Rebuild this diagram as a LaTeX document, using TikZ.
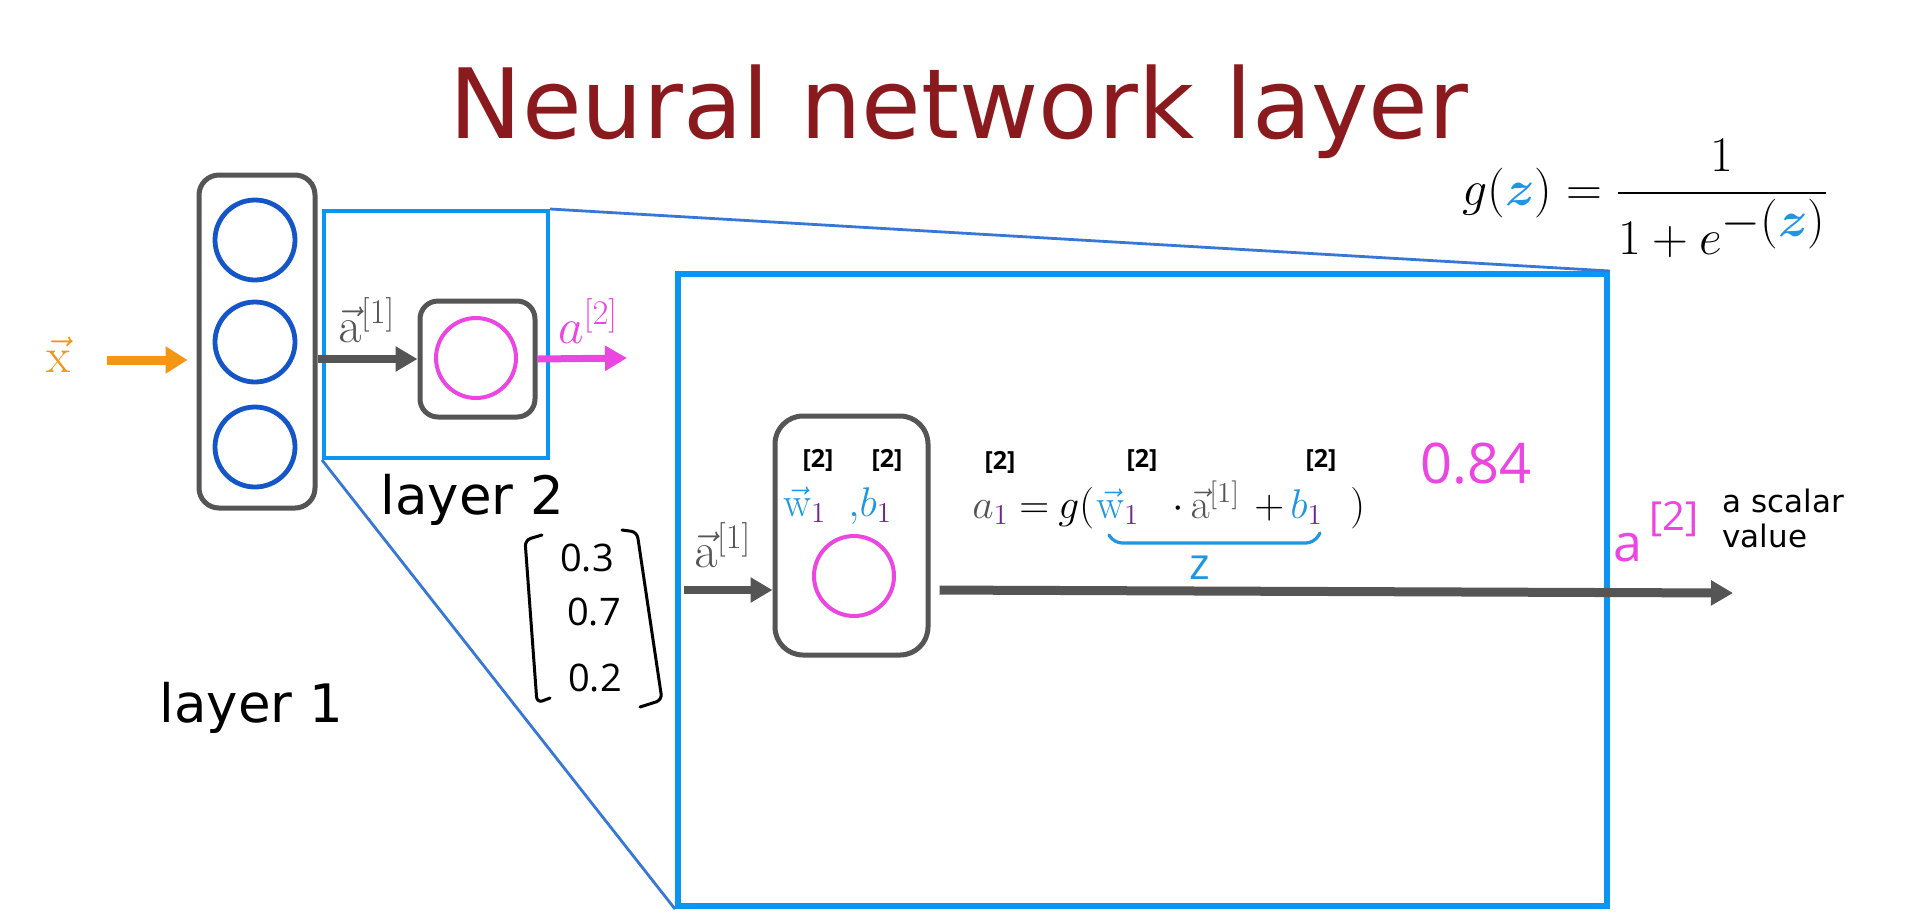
\documentclass[tikz,border=0pt]{standalone}
\usepackage{amsmath}
\usepackage[no-math]{fontspec}
\setmainfont{DejaVu Sans}
\newfontfamily\handfont{Open Sans}
\usetikzlibrary{arrows.meta}
\definecolor{titlered}{RGB}{139,26,30}
\definecolor{boxgray}{RGB}{85,85,85}
\definecolor{nodeblue}{RGB}{20,85,200}
\definecolor{lightblue}{RGB}{10,150,240}
\definecolor{zoomblue}{RGB}{55,120,215}
\definecolor{pinkm}{RGB}{235,70,225}
\definecolor{orangex}{RGB}{243,150,20}
\definecolor{purp}{RGB}{110,40,140}
\definecolor{wblue}{RGB}{30,150,225}
\begin{document}
\begin{tikzpicture}[x=0.5pt,y=-0.5pt,
  graybox/.style={draw=boxgray, line width=2.5pt, rounded corners=10pt, inner sep=0},
  l1circ/.style={circle, draw=nodeblue, line width=2.4pt, minimum size=40pt, inner sep=0},
  pinkcirc/.style={circle, draw=pinkm, line width=2pt, minimum size=40pt, inner sep=0},
  bluebox/.style={draw=lightblue, inner sep=0},
  zoomline/.style={draw=zoomblue, line width=1.4pt},
  grayarrow/.style={draw=boxgray, line width=4pt, -{Triangle[length=11pt,width=12pt]}},
  txt/.style={inner sep=0, anchor=base west},
  hand2/.style={inner sep=0, font=\handfont\bfseries\fontsize{12.5}{13}\selectfont},
  handtxt/.style={inner sep=0, font=\handfont\fontsize{19}{21}\selectfont},
  mathpart/.style={inner sep=0, anchor=base west, font=\fontsize{21}{23}\selectfont}
]
\fill[white] (0,0) rectangle (1920,917);
\useasboundingbox (0,0) rectangle (1920,917);

% title
\node[inner sep=0, anchor=base, text=titlered, font=\fontsize{48.5}{50}\selectfont] (title) at (959,138) {Neural network layer};

% sigmoid formula
\node[txt, font=\fontsize{33}{36}\selectfont] (gz) at (1462,205) {$g({\color{wblue}\boldsymbol{z}}) = \dfrac{1}{1+e^{-({\color{wblue}\boldsymbol{z}})}}$};

% layer 1
\node[graybox, minimum width=58pt, minimum height=166.5pt] (l1) at (257,341.5) {};
\node[l1circ] (c1) at (255,240) {};
\node[l1circ] (c2) at (255,342) {};
\node[l1circ] (c3) at (255,447) {};

% layer 2 small
\node[bluebox, line width=2pt, minimum width=112pt, minimum height=123.5pt] (l2) at (436,334.5) {};
\node[graybox, rounded corners=9pt, minimum width=57.5pt, minimum height=58pt] (n2) at (477.5,359) {};
\node[pinkcirc] (p2) at (476,358) {};

% big zoomed frame
\node[bluebox, line width=3pt, minimum width=464.5pt, minimum height=316pt] (big) at (1142.5,590) {};
\node[graybox, rounded corners=14pt, minimum width=76.5pt, minimum height=119.5pt] (bn) at (851.5,535.5) {};
\node[pinkcirc] (pb) at (854,576) {};

\draw[zoomline] (l2.north east) -- (big.north east);
\draw[zoomline] (l2.south west) -- (big.south west);

% arrows
\coordinate (xs) at (107,360);
\draw[orangex, line width=4.5pt, shorten >=4.5pt, -{Triangle[length=11pt,width=13pt]}] (xs) -- (l1.west |- xs);
\draw[grayarrow] (l1.east |- n2) -- (n2.west);
\coordinate (a2end) at (627,358);
\draw[pinkm, line width=3.5pt, -{Triangle[length=11pt,width=12pt]}] (n2.east) -- (a2end);
\coordinate (ain) at (684,590);
\draw[grayarrow] (ain) -- (ain -| bn.west);
\coordinate (aend) at (1733,593);
\draw[grayarrow, line width=4.5pt, shorten <=4.5pt] (bn.east |- ain) -- (aend);

% labels
\node[inner sep=0, text=orangex, font=\fontsize{26}{28}\selectfont] (xl) at (59,355) {$\vec{\mathrm{x}}$};
\node[txt, text=boxgray, font=\fontsize{27}{29}\selectfont] (a1s) at (338,342) {$\vec{\mathrm{a}}^{[1]}$};
\node[txt, text=pinkm, font=\fontsize{27}{29}\selectfont] (a2s) at (558,343) {$a^{[2]}$};
\node[txt, text=boxgray, font=\fontsize{27}{29}\selectfont] (a1b) at (694,567) {$\vec{\mathrm{a}}^{[1]}$};
\node[txt, font=\fontsize{26.5}{28}\selectfont] (lay1) at (159,722) {layer 1};
\node[txt, font=\fontsize{26.5}{28}\selectfont] (lay2) at (380,514) {layer 2};

% parameters inside node
\node[mathpart, font=\fontsize{21}{23}\selectfont] (wl) at (783,516) {$\color{wblue}\vec{\mathrm{w}}_{\color{purp}1}$};
\node[mathpart, font=\fontsize{21}{23}\selectfont] (bl) at (848,516) {$\color{wblue}{,}b_{\color{purp}1}$};
\node[hand2] (h1) at (818,460) {[2]};
\node[hand2] (h2) at (887,460) {[2]};

% activation formula
\node[mathpart] (fa) at (972,518) {$\color{boxgray}a_{\color{purp}1}$};
\node[mathpart] (feq) at (1019,518) {$=$};
\node[mathpart] (fg) at (1058,518) {$g($};
\node[mathpart] (fw) at (1096,518) {$\color{wblue}\vec{\mathrm{w}}_{\color{purp}1}$};
\node[mathpart] (fdot) at (1172,518) {$\cdot$};
\node[mathpart] (fa1) at (1190,518) {$\color{boxgray}\vec{\mathrm{a}}^{[1]}$};
\node[mathpart] (fplus) at (1254,518) {$+$};
\node[mathpart] (fb) at (1290,518) {$\color{wblue}b_{\color{purp}1}$};
\node[mathpart] (fclose) at (1350,518) {$)$};
\node[hand2] (h3) at (1000,462) {[2]};
\node[hand2] (h4) at (1142,460) {[2]};
\node[hand2] (h5) at (1321,460) {[2]};
\draw[wblue, line width=1.6pt, line cap=round, rounded corners=4pt] (1109,535) -- (1114,543) -- (1314,543) -- (1320,533);
\node[inner sep=0, text=wblue, font=\handfont\fontsize{22}{24}\selectfont] (zl) at (1200,568) {z};
\node[inner sep=0, text=pinkm, font=\handfont\fontsize{28}{30}\selectfont] (v084) at (1476,464) {0.84};

% output
\node[inner sep=0, text=pinkm, font=\handfont\fontsize{26}{28}\selectfont] (pa) at (1628,548) {a};
\node[inner sep=0, text=pinkm, font=\handfont\fontsize{20}{22}\selectfont] (pa2) at (1674,519) {[2]};
\node[txt, font=\fontsize{15.5}{17}\selectfont] (sc1) at (1722,512) {a scalar};
\node[txt, font=\fontsize{15.5}{17}\selectfont] (sc2) at (1722,547) {value};

% input vector
\node[handtxt] (m1) at (587,558) {0.3};
\node[handtxt] (m2) at (594,612) {0.7};
\node[handtxt] (m3) at (595,678) {0.2};
\draw[black, line width=1.5pt, line cap=round, rounded corners=3pt] (542,535) -- (525,540) -- (537,703) -- (550,698);
\draw[black, line width=1.5pt, line cap=round, rounded corners=3pt] (622,530) -- (637,532) -- (662,700) -- (640,707);
\end{tikzpicture}
\end{document}
